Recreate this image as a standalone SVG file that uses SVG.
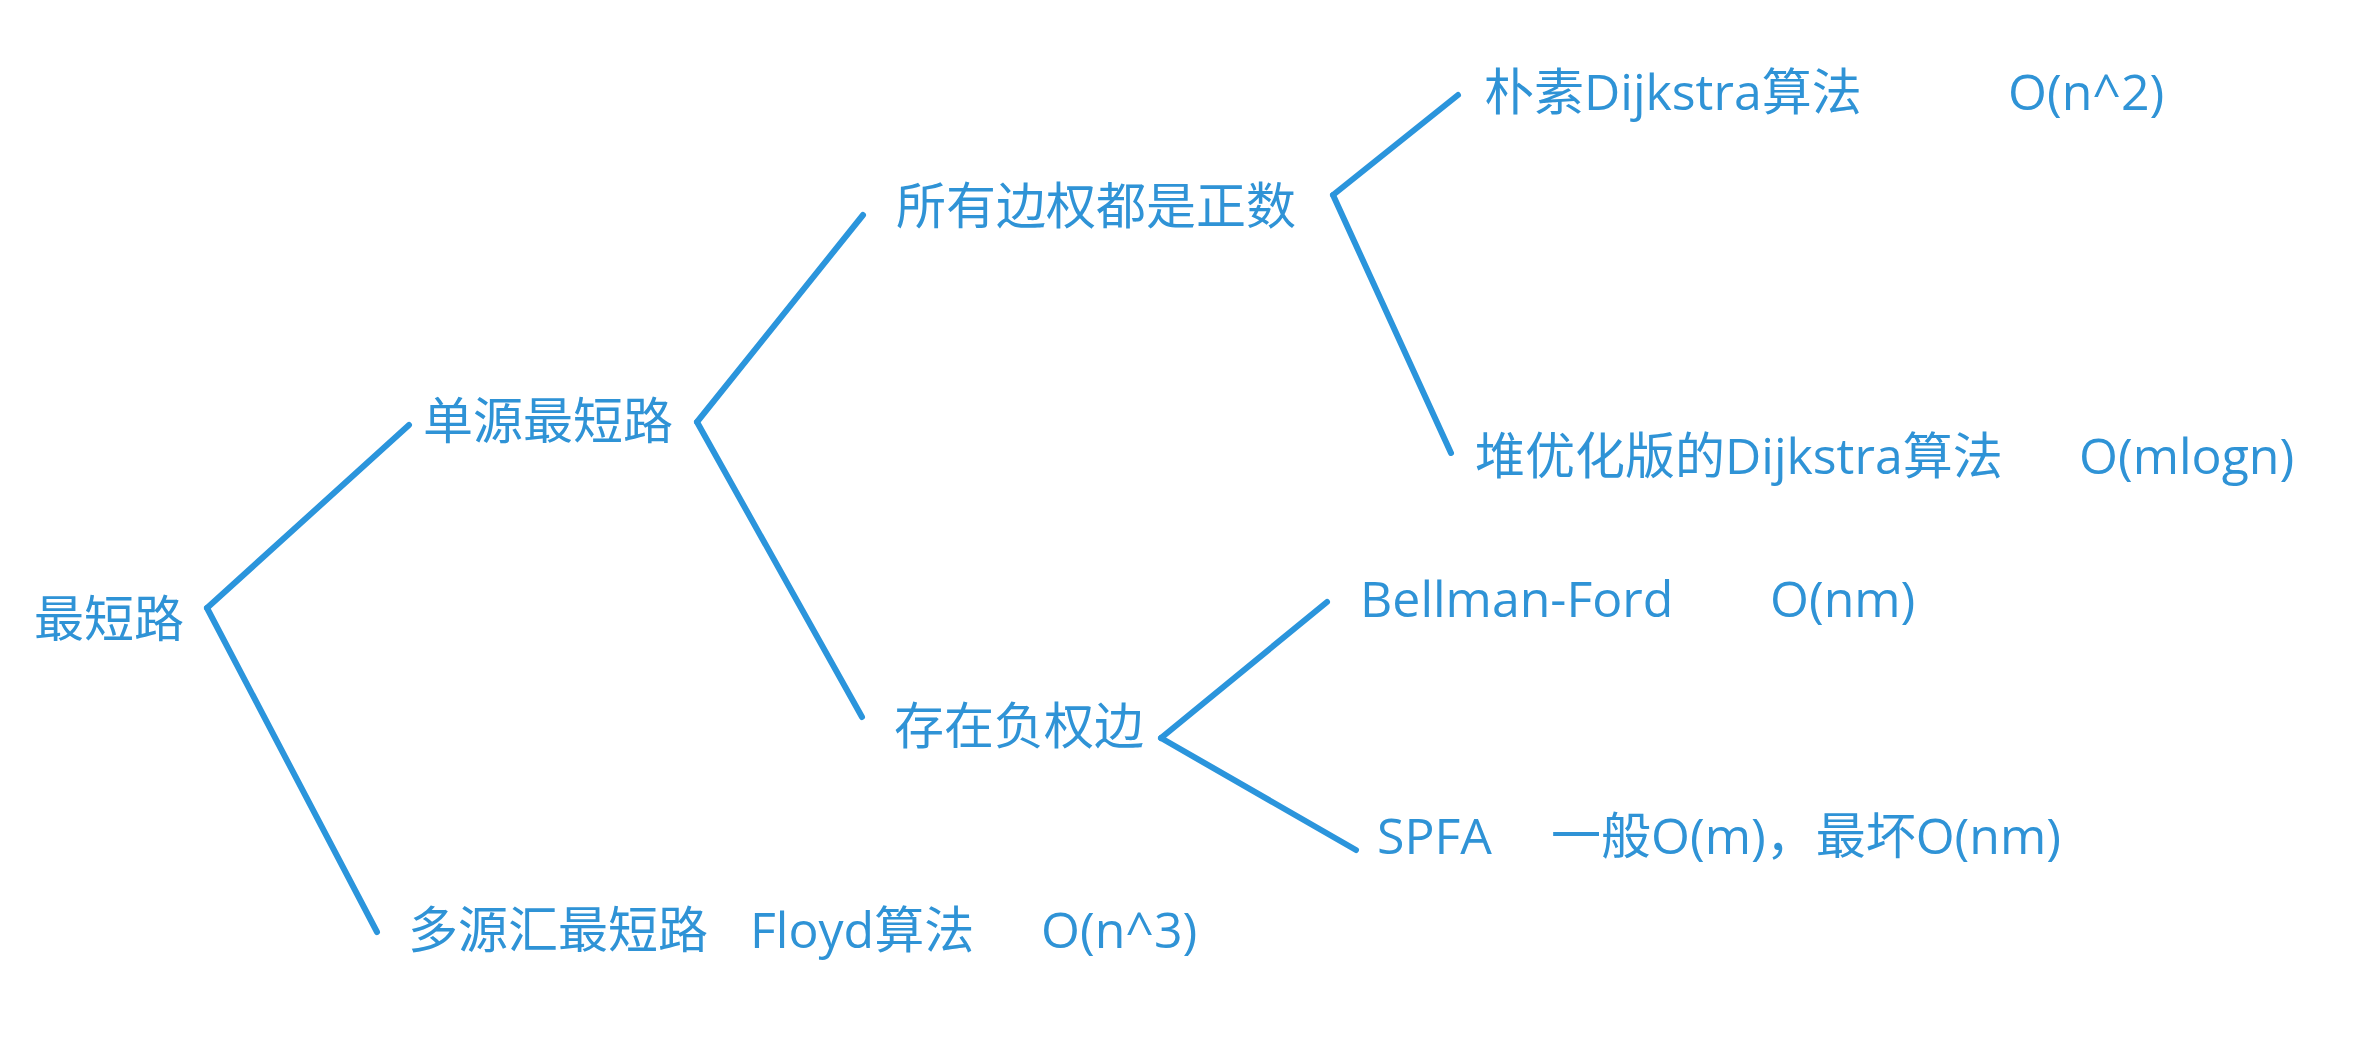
<svg xmlns="http://www.w3.org/2000/svg" width="2358" height="1038" viewBox="0 0 2358 1038">
<style>
  .t { font-family: "Open Sans", "Noto Sans CJK SC", sans-serif; font-size: 50px; fill: #2f93d6; }
  .c { stroke: #2b95dc; stroke-width: 6; stroke-linecap: round; fill: none; }
</style>
<rect width="2358" height="1038" fill="#ffffff"/>
<g id="connectors">
  <line class="c" x1="207" y1="608" x2="409" y2="425"/>
  <line class="c" x1="207" y1="608" x2="377" y2="932"/>
  <line class="c" x1="697" y1="422" x2="863" y2="215"/>
  <line class="c" x1="697" y1="422" x2="862" y2="717"/>
  <line class="c" x1="1333" y1="195" x2="1458" y2="95"/>
  <line class="c" x1="1333" y1="195" x2="1451" y2="453"/>
  <line class="c" x1="1161" y1="738" x2="1327" y2="602"/>
  <line class="c" x1="1161" y1="738" x2="1356" y2="850"/>
</g>
<g id="root"><text class="t" x="34" y="637">最短路</text></g>
<g id="single"><text class="t" x="423" y="439">单源最短路</text></g>
<g id="positive"><text class="t" x="896" y="224">所有边权都是正数</text></g>
<g id="naive-dijkstra">
  <text class="t" x="1484" y="110">朴素Dijkstra算法</text>
  <text class="t" x="2008" y="110">O(n^2)</text>
</g>
<g id="heap-dijkstra">
  <text class="t" x="1475" y="474">堆优化版的Dijkstra算法</text>
  <text class="t" x="2079" y="474">O(mlogn)</text>
</g>
<g id="negative"><text class="t" x="894" y="744">存在负权边</text></g>
<g id="bellman-ford">
  <text class="t" x="1360" y="617">Bellman-Ford</text>
  <text class="t" x="1770" y="617">O(nm)</text>
</g>
<g id="spfa">
  <text class="t" x="1377" y="854">SPFA</text>
  <text class="t" x="1551" y="854">一般O(m)，最坏O(nm)</text>
</g>
<g id="multi">
  <text class="t" x="408" y="948">多源汇最短路</text>
  <text class="t" x="750" y="948">Floyd算法</text>
  <text class="t" x="1041" y="948">O(n^3)</text>
</g>
</svg>
